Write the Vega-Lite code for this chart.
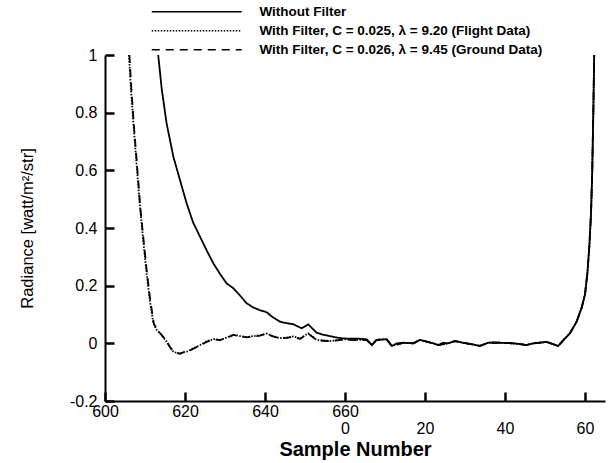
{
  "$schema": "https://vega.github.io/schema/vega-lite/v6.json",
  "width": 500,
  "height": 346,
  "autosize": {"type": "none"},
  "padding": {"left": 105, "top": 55, "right": 4, "bottom": 62},
  "background": "white",
  "config": {
    "view": {"stroke": null},
    "font": "Liberation Sans"
  },
  "data": {
    "values": [
      {"series": "Without Filter", "x": 613.3, "y": 1.0},
      {"series": "Without Filter", "x": 614.2, "y": 0.88},
      {"series": "Without Filter", "x": 615.4, "y": 0.763},
      {"series": "Without Filter", "x": 617.1, "y": 0.647},
      {"series": "Without Filter", "x": 618.75, "y": 0.566},
      {"series": "Without Filter", "x": 620.4, "y": 0.486},
      {"series": "Without Filter", "x": 622.0, "y": 0.42},
      {"series": "Without Filter", "x": 623.75, "y": 0.37},
      {"series": "Without Filter", "x": 625.5, "y": 0.32},
      {"series": "Without Filter", "x": 627.1, "y": 0.277},
      {"series": "Without Filter", "x": 628.8, "y": 0.24},
      {"series": "Without Filter", "x": 630.4, "y": 0.208},
      {"series": "Without Filter", "x": 632.1, "y": 0.191},
      {"series": "Without Filter", "x": 633.8, "y": 0.165},
      {"series": "Without Filter", "x": 635.4, "y": 0.139},
      {"series": "Without Filter", "x": 637.0, "y": 0.125},
      {"series": "Without Filter", "x": 638.7, "y": 0.115},
      {"series": "Without Filter", "x": 640.4, "y": 0.108},
      {"series": "Without Filter", "x": 642.0, "y": 0.09},
      {"series": "Without Filter", "x": 643.75, "y": 0.075},
      {"series": "Without Filter", "x": 645.4, "y": 0.07},
      {"series": "Without Filter", "x": 647.1, "y": 0.066},
      {"series": "Without Filter", "x": 648.3, "y": 0.058},
      {"series": "Without Filter", "x": 649.2, "y": 0.052},
      {"series": "Without Filter", "x": 650.8, "y": 0.066},
      {"series": "Without Filter", "x": 652.9, "y": 0.037},
      {"series": "Without Filter", "x": 654.5, "y": 0.03},
      {"series": "Without Filter", "x": 656.25, "y": 0.025},
      {"series": "Without Filter", "x": 658.0, "y": 0.02},
      {"series": "Without Filter", "x": 659.6, "y": 0.017},
      {"series": "Without Filter", "x": 661.5, "y": 0.016},
      {"series": "Without Filter", "x": 663.5, "y": 0.016},
      {"series": "Without Filter", "x": 665.4, "y": 0.014},
      {"series": "Without Filter", "x": 666.7, "y": -0.006},
      {"series": "Without Filter", "x": 667.9, "y": 0.012},
      {"series": "Without Filter", "x": 669.0, "y": 0.013},
      {"series": "Without Filter", "x": 670.4, "y": 0.014},
      {"series": "Without Filter", "x": 671.7, "y": -0.009},
      {"series": "Without Filter", "x": 673.0, "y": 0.0},
      {"series": "Without Filter", "x": 674.6, "y": 0.002},
      {"series": "Without Filter", "x": 677.1, "y": 0.0},
      {"series": "Without Filter", "x": 678.75, "y": 0.012},
      {"series": "Without Filter", "x": 680.5, "y": 0.006},
      {"series": "Without Filter", "x": 682.1, "y": 0.0},
      {"series": "Without Filter", "x": 683.3, "y": -0.006},
      {"series": "Without Filter", "x": 684.5, "y": 0.002},
      {"series": "Without Filter", "x": 685.8, "y": 0.0},
      {"series": "Without Filter", "x": 687.5, "y": 0.008},
      {"series": "Without Filter", "x": 689.0, "y": 0.003},
      {"series": "Without Filter", "x": 690.4, "y": 0.0},
      {"series": "Without Filter", "x": 692.0, "y": -0.004},
      {"series": "Without Filter", "x": 693.75, "y": -0.009},
      {"series": "Without Filter", "x": 695.8, "y": 0.002},
      {"series": "Without Filter", "x": 697.0, "y": 0.003},
      {"series": "Without Filter", "x": 698.75, "y": 0.002},
      {"series": "Without Filter", "x": 700.5, "y": 0.001},
      {"series": "Without Filter", "x": 702.1, "y": 0.0},
      {"series": "Without Filter", "x": 704.0, "y": -0.003},
      {"series": "Without Filter", "x": 705.4, "y": -0.006},
      {"series": "Without Filter", "x": 707.1, "y": 0.0},
      {"series": "Without Filter", "x": 708.7, "y": 0.002},
      {"series": "Without Filter", "x": 710.4, "y": 0.005},
      {"series": "Without Filter", "x": 712.0, "y": -0.003},
      {"series": "Without Filter", "x": 713.3, "y": -0.009},
      {"series": "Without Filter", "x": 715.0, "y": 0.017},
      {"series": "Without Filter", "x": 716.25, "y": 0.035},
      {"series": "Without Filter", "x": 717.9, "y": 0.075},
      {"series": "Without Filter", "x": 719.2, "y": 0.125},
      {"series": "Without Filter", "x": 720.0, "y": 0.17},
      {"series": "Without Filter", "x": 720.6, "y": 0.243},
      {"series": "Without Filter", "x": 721.1, "y": 0.34},
      {"series": "Without Filter", "x": 721.5, "y": 0.45},
      {"series": "Without Filter", "x": 721.8, "y": 0.59},
      {"series": "Without Filter", "x": 722.1, "y": 0.82},
      {"series": "Without Filter", "x": 722.3, "y": 1.0},

      {"series": "Flight", "x": 606.0, "y": 1.0},
      {"series": "Flight", "x": 606.5, "y": 0.88},
      {"series": "Flight", "x": 607.1, "y": 0.763},
      {"series": "Flight", "x": 607.9, "y": 0.62},
      {"series": "Flight", "x": 608.75, "y": 0.474},
      {"series": "Flight", "x": 609.6, "y": 0.35},
      {"series": "Flight", "x": 610.4, "y": 0.243},
      {"series": "Flight", "x": 611.2, "y": 0.15},
      {"series": "Flight", "x": 612.1, "y": 0.069},
      {"series": "Flight", "x": 613.0, "y": 0.045},
      {"series": "Flight", "x": 613.75, "y": 0.035},
      {"series": "Flight", "x": 614.6, "y": 0.02},
      {"series": "Flight", "x": 615.4, "y": 0.006},
      {"series": "Flight", "x": 616.2, "y": -0.012},
      {"series": "Flight", "x": 617.1, "y": -0.029},
      {"series": "Flight", "x": 617.9, "y": -0.033},
      {"series": "Flight", "x": 618.75, "y": -0.035},
      {"series": "Flight", "x": 619.5, "y": -0.03},
      {"series": "Flight", "x": 620.4, "y": -0.029},
      {"series": "Flight", "x": 621.0, "y": -0.025},
      {"series": "Flight", "x": 622.1, "y": -0.017},
      {"series": "Flight", "x": 623.75, "y": -0.006},
      {"series": "Flight", "x": 625.4, "y": 0.006},
      {"series": "Flight", "x": 627.1, "y": 0.015},
      {"series": "Flight", "x": 628.75, "y": 0.012},
      {"series": "Flight", "x": 630.4, "y": 0.02},
      {"series": "Flight", "x": 632.1, "y": 0.03},
      {"series": "Flight", "x": 633.75, "y": 0.025},
      {"series": "Flight", "x": 635.4, "y": 0.022},
      {"series": "Flight", "x": 637.1, "y": 0.025},
      {"series": "Flight", "x": 638.75, "y": 0.028},
      {"series": "Flight", "x": 640.4, "y": 0.034},
      {"series": "Flight", "x": 642.0, "y": 0.025},
      {"series": "Flight", "x": 643.75, "y": 0.018},
      {"series": "Flight", "x": 645.4, "y": 0.02},
      {"series": "Flight", "x": 647.1, "y": 0.024},
      {"series": "Flight", "x": 648.75, "y": 0.016},
      {"series": "Flight", "x": 650.8, "y": 0.035},
      {"series": "Flight", "x": 652.9, "y": 0.012},
      {"series": "Flight", "x": 654.5, "y": 0.01},
      {"series": "Flight", "x": 656.25, "y": 0.008},
      {"series": "Flight", "x": 658.0, "y": 0.011},
      {"series": "Flight", "x": 659.6, "y": 0.014},
      {"series": "Flight", "x": 661.5, "y": 0.013},
      {"series": "Flight", "x": 663.5, "y": 0.012},
      {"series": "Flight", "x": 665.4, "y": 0.012},
      {"series": "Flight", "x": 666.7, "y": -0.006},
      {"series": "Flight", "x": 667.9, "y": 0.012},
      {"series": "Flight", "x": 670.4, "y": 0.014},
      {"series": "Flight", "x": 671.7, "y": -0.009},
      {"series": "Flight", "x": 674.6, "y": 0.002},
      {"series": "Flight", "x": 677.1, "y": 0.0},
      {"series": "Flight", "x": 678.75, "y": 0.012},
      {"series": "Flight", "x": 682.1, "y": 0.0},
      {"series": "Flight", "x": 683.3, "y": -0.006},
      {"series": "Flight", "x": 685.8, "y": 0.0},
      {"series": "Flight", "x": 687.5, "y": 0.008},
      {"series": "Flight", "x": 690.4, "y": 0.0},
      {"series": "Flight", "x": 693.75, "y": -0.009},
      {"series": "Flight", "x": 695.8, "y": 0.002},
      {"series": "Flight", "x": 698.75, "y": 0.002},
      {"series": "Flight", "x": 702.1, "y": 0.0},
      {"series": "Flight", "x": 705.4, "y": -0.006},
      {"series": "Flight", "x": 707.1, "y": 0.0},
      {"series": "Flight", "x": 710.4, "y": 0.005},
      {"series": "Flight", "x": 713.3, "y": -0.009},
      {"series": "Flight", "x": 715.0, "y": 0.017},
      {"series": "Flight", "x": 716.25, "y": 0.035},
      {"series": "Flight", "x": 717.9, "y": 0.075},
      {"series": "Flight", "x": 719.2, "y": 0.125},
      {"series": "Flight", "x": 720.0, "y": 0.17},
      {"series": "Flight", "x": 720.6, "y": 0.243},
      {"series": "Flight", "x": 721.1, "y": 0.34},
      {"series": "Flight", "x": 721.5, "y": 0.45},
      {"series": "Flight", "x": 721.8, "y": 0.59},
      {"series": "Flight", "x": 722.1, "y": 0.82},
      {"series": "Flight", "x": 722.3, "y": 1.0},

      {"series": "Ground", "x": 606.1, "y": 1.0},
      {"series": "Ground", "x": 606.6, "y": 0.88},
      {"series": "Ground", "x": 607.2, "y": 0.76},
      {"series": "Ground", "x": 608.0, "y": 0.62},
      {"series": "Ground", "x": 608.8, "y": 0.474},
      {"series": "Ground", "x": 609.7, "y": 0.35},
      {"series": "Ground", "x": 610.5, "y": 0.243},
      {"series": "Ground", "x": 611.3, "y": 0.15},
      {"series": "Ground", "x": 612.2, "y": 0.069},
      {"series": "Ground", "x": 613.1, "y": 0.045},
      {"series": "Ground", "x": 613.8, "y": 0.035},
      {"series": "Ground", "x": 614.7, "y": 0.02},
      {"series": "Ground", "x": 615.5, "y": 0.005},
      {"series": "Ground", "x": 616.3, "y": -0.014},
      {"series": "Ground", "x": 617.2, "y": -0.03},
      {"series": "Ground", "x": 618.0, "y": -0.034},
      {"series": "Ground", "x": 618.8, "y": -0.036},
      {"series": "Ground", "x": 619.6, "y": -0.031},
      {"series": "Ground", "x": 620.5, "y": -0.03},
      {"series": "Ground", "x": 621.1, "y": -0.026},
      {"series": "Ground", "x": 622.2, "y": -0.018},
      {"series": "Ground", "x": 623.8, "y": -0.007},
      {"series": "Ground", "x": 625.4, "y": 0.005},
      {"series": "Ground", "x": 627.1, "y": 0.014},
      {"series": "Ground", "x": 628.75, "y": 0.011},
      {"series": "Ground", "x": 630.4, "y": 0.019},
      {"series": "Ground", "x": 632.1, "y": 0.029},
      {"series": "Ground", "x": 633.75, "y": 0.024},
      {"series": "Ground", "x": 635.4, "y": 0.021},
      {"series": "Ground", "x": 637.1, "y": 0.024},
      {"series": "Ground", "x": 638.75, "y": 0.027},
      {"series": "Ground", "x": 640.4, "y": 0.033},
      {"series": "Ground", "x": 642.0, "y": 0.024},
      {"series": "Ground", "x": 643.75, "y": 0.017},
      {"series": "Ground", "x": 645.4, "y": 0.019},
      {"series": "Ground", "x": 647.1, "y": 0.023},
      {"series": "Ground", "x": 648.75, "y": 0.015},
      {"series": "Ground", "x": 650.8, "y": 0.034},
      {"series": "Ground", "x": 652.9, "y": 0.011},
      {"series": "Ground", "x": 654.5, "y": 0.009},
      {"series": "Ground", "x": 656.25, "y": 0.007},
      {"series": "Ground", "x": 658.0, "y": 0.01},
      {"series": "Ground", "x": 659.6, "y": 0.013},
      {"series": "Ground", "x": 661.5, "y": 0.012},
      {"series": "Ground", "x": 663.5, "y": 0.011},
      {"series": "Ground", "x": 665.4, "y": 0.011},
      {"series": "Ground", "x": 666.7, "y": -0.006},
      {"series": "Ground", "x": 667.9, "y": 0.012},
      {"series": "Ground", "x": 670.4, "y": 0.014},
      {"series": "Ground", "x": 671.7, "y": -0.009},
      {"series": "Ground", "x": 674.6, "y": 0.002},
      {"series": "Ground", "x": 677.1, "y": 0.0},
      {"series": "Ground", "x": 678.75, "y": 0.012},
      {"series": "Ground", "x": 682.1, "y": 0.0},
      {"series": "Ground", "x": 683.3, "y": -0.006},
      {"series": "Ground", "x": 685.8, "y": 0.0},
      {"series": "Ground", "x": 687.5, "y": 0.008},
      {"series": "Ground", "x": 690.4, "y": 0.0},
      {"series": "Ground", "x": 693.75, "y": -0.009},
      {"series": "Ground", "x": 695.8, "y": 0.002},
      {"series": "Ground", "x": 698.75, "y": 0.002},
      {"series": "Ground", "x": 702.1, "y": 0.0},
      {"series": "Ground", "x": 705.4, "y": -0.006},
      {"series": "Ground", "x": 707.1, "y": 0.0},
      {"series": "Ground", "x": 710.4, "y": 0.005},
      {"series": "Ground", "x": 713.3, "y": -0.009},
      {"series": "Ground", "x": 715.0, "y": 0.017},
      {"series": "Ground", "x": 716.25, "y": 0.035},
      {"series": "Ground", "x": 717.9, "y": 0.075},
      {"series": "Ground", "x": 719.2, "y": 0.125},
      {"series": "Ground", "x": 720.0, "y": 0.17},
      {"series": "Ground", "x": 720.6, "y": 0.243},
      {"series": "Ground", "x": 721.1, "y": 0.34},
      {"series": "Ground", "x": 721.5, "y": 0.45},
      {"series": "Ground", "x": 721.8, "y": 0.59},
      {"series": "Ground", "x": 722.1, "y": 0.82},
      {"series": "Ground", "x": 722.3, "y": 1.0}
    ]
  },
  "mark": {"type": "line", "color": "black", "strokeWidth": 1.8, "clip": true},
  "encoding": {
    "x": {
      "field": "x", "type": "quantitative",
      "scale": {"domain": [600, 725], "nice": false, "zero": false},
      "axis": {
        "orient": "bottom",
        "title": "Sample Number",
        "titleFont": "Liberation Sans", "titleFontSize": 20, "titleFontWeight": "bold", "titleColor": "black",
        "titlePadding": 3,
        "values": [600, 620, 640, 660, 680, 700, 720],
        "labelExpr": "datum.value < 660 ? ['' + datum.value, ''] : (datum.value == 660 ? ['660', '0'] : ['', '' + (datum.value - 660)])",
        "labelFont": "Liberation Sans", "labelFontSize": 16, "labelColor": "black",
        "labelLineHeight": 17, "labelBaseline": "top",
        "labelOverlap": false, "labelFlush": false, "labelBound": false,
        "labelPadding": 11,
        "grid": false,
        "domain": true, "domainColor": "black", "domainWidth": 2,
        "ticks": true, "tickColor": "black", "tickSize": -9, "tickWidth": 2.5
      }
    },
    "y": {
      "field": "y", "type": "quantitative",
      "scale": {"domain": [-0.2, 1], "nice": false, "zero": false},
      "axis": {
        "orient": "left",
        "title": "Radiance [watt/m²/str]",
        "titleFont": "Liberation Sans", "titleFontSize": 16.5, "titleFontWeight": "normal", "titleColor": "black",
        "titlePadding": 34,
        "values": [-0.2, 0, 0.2, 0.4, 0.6, 0.8, 1],
        "labelExpr": "'' + (round(datum.value * 10) / 10)",
        "labelFont": "Liberation Sans", "labelFontSize": 16, "labelColor": "black",
        "labelOverlap": false, "labelFlush": false, "labelBound": false,
        "labelPadding": 17,
        "grid": false,
        "domain": true, "domainColor": "black", "domainWidth": 2,
        "ticks": true, "tickColor": "black", "tickSize": -9, "tickWidth": 2.5
      }
    },
    "strokeDash": {
      "field": "series", "type": "nominal",
      "scale": {
        "domain": ["Without Filter", "Flight", "Ground"],
        "range": [[1, 0], [1.5, 1.5], [8, 6]]
      },
      "legend": {
        "orient": "none",
        "legendX": 85,
        "legendY": -50,
        "title": null,
        "symbolType": "M-9,0H9",
        "symbolSize": 100,
        "symbolStrokeColor": "black",
        "symbolStrokeWidth": 1.6,
        "labelOffset": 56,
        "labelFont": "Liberation Sans",
        "labelFontSize": 13.5,
        "labelFontWeight": "bold",
        "labelColor": "black",
        "labelLimit": 400,
        "rowPadding": 4,
        "labelExpr": "datum.label == 'Without Filter' ? 'Without Filter' : (datum.label == 'Flight' ? 'With Filter, C = 0.025, λ = 9.20 (Flight Data)' : 'With Filter, C = 0.026, λ = 9.45 (Ground Data)')"
      }
    }
  }
}
